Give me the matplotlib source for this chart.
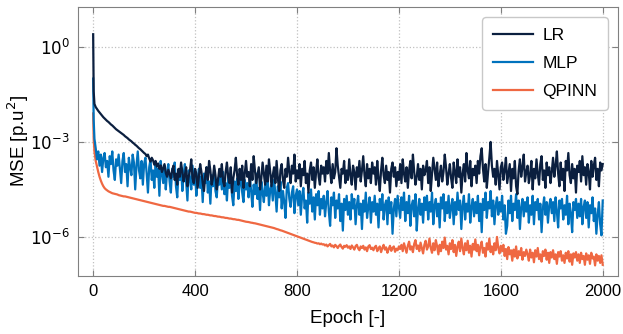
import numpy as np
import matplotlib.pyplot as plt

plt.rcParams['font.family'] = ['Liberation Sans', 'DejaVu Sans']

# epochs: first two points, then every 5 epochs
epoch = [0, 2] + list(range(5, 2001, 5))

# log10(MSE), one row = 100 epochs
lr_log = [0.4, -1.4,
    -1.8, -1.9, -1.96, -2.02, -2.07, -2.12, -2.17, -2.22, -2.26, -2.3, -2.34, -2.37, -2.41, -2.45, -2.48, -2.52, -2.56, -2.6, -2.63, -2.66,
    -2.69, -2.72, -2.75, -2.78, -2.82, -2.85, -2.88, -2.92, -2.95, -2.98, -3.02, -3.05, -3.09, -3.12, -3.16, -3.2, -3.23, -3.27, -3.31, -3.35,
    -3.38, -3.45, -3.4, -3.52, -3.62, -3.5, -3.58, -3.72, -3.6, -3.78, -3.68, -3.85, -3.74, -3.95, -3.82, -3.7, -3.98, -4.1, -3.88, -4.02,
    -4.15, -3.9, -3.75, -4.2, -4.0, -4.35, -3.85, -4.1, -3.65, -3.95, -4.25, -4.05, -3.8, -4.4, -4.1, -3.9, -3.55, -4.15, -4.3, -3.85,
    -4.0, -4.45, -4.1, -3.7, -3.95, -4.3, -4.55, -4.05, -3.8, -4.2, -3.6, -3.9, -4.35, -4.15, -3.75, -4.05, -4.5, -4.2, -3.85, -4.1,
    -3.7, -4.25, -4.4, -3.95, -3.65, -4.1, -4.3, -3.8, -4.6, -4.15, -3.9, -3.5, -4.05, -4.35, -3.85, -4.2, -3.75, -4.45, -4.0, -3.6,
    -4.1, -3.95, -4.4, -3.7, -4.2, -3.45, -3.9, -4.3, -4.05, -3.8, -4.5, -4.15, -3.65, -4.0, -4.35, -3.75, -4.25, -3.55, -3.95, -4.4,
    -4.05, -3.8, -4.3, -3.6, -4.15, -4.55, -3.9, -3.7, -4.2, -4.45, -3.85, -4.1, -3.5, -3.95, -4.3, -3.75, -4.0, -3.4, -4.25, -3.9,
    -4.15, -3.7, -4.4, -3.85, -4.05, -3.6, -4.3, -4.0, -4.6, -3.9, -3.65, -4.2, -3.8, -4.45, -3.95, -3.55, -4.1, -4.35, -3.75, -4.0,
    -3.8, -4.25, -3.6, -4.0, -3.35, -3.9, -4.3, -3.7, -4.15, -3.95, -3.2, -3.75, -4.1, -4.45, -3.85, -4.0, -3.6, -4.3, -3.9, -4.2,
    -3.55, -4.05, -4.35, -3.75, -3.95, -4.5, -3.8, -4.1, -3.6, -4.25, -3.9, -3.45, -4.05, -4.4, -3.7, -4.15, -3.85, -4.3, -3.65, -4.0,
    -3.8, -4.35, -3.6, -4.15, -4.55, -3.9, -3.5, -4.05, -4.3, -3.75, -4.2, -3.95, -4.6, -3.85, -3.65, -4.1, -3.8, -4.4, -3.95, -4.2,
    -3.7, -4.3, -3.55, -4.0, -4.25, -3.8, -4.45, -3.9, -3.6, -4.15, -3.4, -3.95, -4.35, -4.1, -3.7, -4.2, -3.85, -4.5, -3.75, -4.05,
    -3.9, -3.6, -4.3, -3.8, -4.55, -4.0, -3.5, -3.85, -4.2, -3.65, -4.4, -4.05, -3.75, -4.25, -3.95, -3.4, -3.8, -4.35, -4.0, -3.7,
    -4.15, -4.45, -3.65, -3.95, -4.3, -3.55, -4.1, -3.8, -4.6, -4.0, -3.7, -4.25, -3.35, -3.9, -4.15, -3.6, -4.4, -3.85, -4.05, -3.75,
    -4.3, -3.6, -4.0, -3.45, -3.2, -3.85, -4.25, -3.7, -4.45, -3.95, -3.5, -3.0, -3.75, -4.1, -3.85, -4.35, -3.6, -4.05, -4.5, -3.8,
    -3.65, -4.2, -3.9, -3.5, -4.3, -4.0, -3.7, -4.55, -3.85, -4.15, -3.6, -4.4, -4.65, -3.9, -3.55, -4.1, -3.8, -3.4, -4.25, -3.95,
    -3.75, -4.3, -4.05, -3.6, -4.5, -3.85, -4.15, -3.55, -4.0, -4.35, -3.7, -3.45, -4.2, -3.9, -4.45, -3.65, -4.05, -3.8, -4.3, -3.95,
    -3.5, -4.1, -3.75, -3.3, -4.0, -4.4, -3.65, -4.2, -3.85, -4.55, -3.6, -3.9, -3.35, -4.05, -4.3, -3.7, -4.15, -3.85, -4.6, -3.75,
    -3.95, -3.6, -4.25, -3.45, -4.05, -3.8, -4.35, -3.7, -3.95, -4.5, -3.6, -4.1, -3.75, -3.5, -4.2, -3.85, -4.4, -3.65, -3.9, -3.7]

mlp_log = [-1.0, -2.3,
    -2.9, -3.2, -3.55, -3.3, -3.75, -3.4, -3.95, -3.5, -3.35, -3.8, -3.6, -4.1, -3.45, -3.7, -3.3, -3.9, -4.2, -3.55, -3.75, -3.4,
    -3.85, -4.3, -3.6, -3.35, -3.95, -3.7, -4.4, -3.5, -3.8, -4.05, -3.4, -3.65, -4.5, -3.75, -3.3, -3.9, -4.15, -3.6, -4.35, -3.7,
    -3.5, -4.0, -4.6, -3.8, -3.55, -4.2, -3.9, -4.45, -3.65, -4.1, -3.85, -4.7, -3.6, -4.0, -4.3, -3.75, -4.5, -3.95, -3.7, -4.25,
    -4.6, -3.85, -4.1, -3.65, -4.4, -4.75, -3.95, -4.2, -3.8, -4.55, -4.05, -3.7, -4.3, -4.85, -3.9, -4.15, -4.5, -3.75, -4.35, -4.0,
    -4.7, -4.2, -3.85, -4.45, -4.1, -4.9, -4.0, -4.3, -3.8, -4.6, -4.25, -4.95, -4.05, -4.4, -3.9, -4.55, -4.75, -4.15, -4.35, -4.0,
    -4.5, -3.95, -4.65, -4.3, -4.85, -4.1, -4.45, -4.0, -4.7, -5.0, -4.25, -4.55, -4.15, -4.8, -4.35, -3.95, -4.6, -4.9, -4.2, -4.5,
    -4.3, -4.75, -4.1, -4.55, -5.05, -4.35, -4.65, -4.0, -4.8, -4.45, -5.15, -4.25, -4.6, -4.9, -4.3, -4.7, -4.15, -5.0, -4.5, -4.35,
    -4.85, -4.2, -4.6, -5.2, -4.4, -4.75, -4.25, -5.1, -4.55, -4.9, -5.4, -4.45, -4.3, -4.8, -5.05, -4.6, -4.4, -5.25, -4.7, -4.5,
    -5.0, -4.55, -5.3, -4.7, -4.45, -5.1, -4.85, -5.55, -4.6, -4.95, -4.5, -5.2, -4.75, -5.45, -4.65, -5.0, -4.55, -5.3, -4.8, -5.1,
    -4.7, -5.35, -4.9, -4.55, -5.2, -5.65, -4.75, -5.0, -4.6, -5.4, -4.85, -5.1, -4.65, -5.5, -4.95, -5.8, -4.8, -5.15, -4.7, -5.3,
    -4.9, -5.45, -4.65, -5.1, -4.8, -5.6, -5.0, -4.7, -5.3, -4.95, -5.75, -4.85, -5.2, -4.6, -5.4, -5.05, -4.75, -5.55, -4.9, -5.2,
    -4.7, -5.3, -4.95, -5.7, -4.8, -5.15, -4.65, -5.45, -5.0, -4.85, -5.6, -4.75, -5.25, -4.9, -5.9, -5.1, -4.8, -5.35, -4.7, -5.05,
    -5.4, -4.75, -5.15, -4.6, -5.5, -4.9, -5.25, -4.7, -5.65, -5.0, -4.85, -5.35, -4.65, -5.8, -5.1, -4.8, -5.3, -4.95, -5.55, -4.75,
    -5.15, -4.7, -5.45, -4.9, -5.2, -4.6, -5.6, -5.0, -4.8, -5.35, -4.95, -5.7, -4.75, -5.1, -4.65, -5.5, -4.9, -5.25, -4.7, -5.4,
    -5.05, -4.8, -5.6, -4.9, -5.3, -4.6, -5.15, -4.85, -5.75, -5.0, -4.7, -5.45, -4.95, -5.2, -4.65, -5.55, -5.05, -4.8, -5.35, -4.9,
    -5.25, -4.7, -5.5, -4.95, -5.85, -4.8, -5.15, -4.6, -5.4, -4.9, -5.1, -4.55, -5.35, -4.85, -5.6, -5.0, -4.75, -5.3, -4.9, -5.2,
    -4.7, -5.45, -5.0, -5.9, -5.65, -4.85, -5.25, -4.7, -5.5, -4.95, -5.15, -4.65, -5.4, -4.85, -5.75, -5.05, -4.8, -5.35, -4.9, -5.2,
    -4.75, -5.55, -5.0, -5.3, -4.7, -5.6, -4.9, -5.15, -4.8, -5.45, -4.95, -5.85, -5.1, -4.75, -5.3, -4.9, -5.55, -5.0, -4.8, -5.25,
    -4.9, -5.5, -4.75, -5.2, -5.7, -4.85, -5.1, -4.8, -5.45, -5.0, -5.3, -4.7, -5.6, -4.95, -5.25, -5.85, -4.9, -5.15, -4.8, -5.4,
    -4.95, -5.35, -4.8, -5.6, -5.05, -4.85, -5.4, -4.9, -5.7, -5.0, -5.25, -4.75, -5.5, -5.1, -5.9, -5.3, -4.9, -5.6, -5.95, -4.85]

qpinn_log = [-2.1, -2.9,
    -3.3, -3.6, -3.78, -3.95, -4.1, -4.22, -4.32, -4.4, -4.46, -4.5, -4.53, -4.56, -4.58, -4.6, -4.62, -4.63, -4.64, -4.65, -4.66, -4.68,
    -4.69, -4.7, -4.71, -4.72, -4.72, -4.73, -4.74, -4.75, -4.76, -4.77, -4.78, -4.79, -4.8, -4.81, -4.82, -4.83, -4.84, -4.85, -4.86, -4.87,
    -4.88, -4.89, -4.9, -4.91, -4.92, -4.93, -4.94, -4.95, -4.96, -4.97, -4.98, -4.99, -5.0, -5.01, -5.02, -5.02, -5.03, -5.04, -5.05, -5.05,
    -5.06, -5.07, -5.08, -5.09, -5.1, -5.11, -5.12, -5.13, -5.14, -5.15, -5.16, -5.17, -5.18, -5.19, -5.2, -5.2, -5.21, -5.22, -5.23, -5.24,
    -5.24, -5.25, -5.26, -5.26, -5.27, -5.28, -5.28, -5.29, -5.3, -5.3, -5.31, -5.32, -5.32, -5.33, -5.34, -5.34, -5.35, -5.36, -5.36, -5.37,
    -5.38, -5.38, -5.39, -5.4, -5.4, -5.41, -5.42, -5.42, -5.43, -5.44, -5.44, -5.45, -5.46, -5.46, -5.47, -5.48, -5.49, -5.5, -5.51, -5.52,
    -5.525, -5.53, -5.54, -5.55, -5.555, -5.565, -5.57, -5.58, -5.59, -5.6, -5.61, -5.62, -5.63, -5.64, -5.65, -5.66, -5.67, -5.68, -5.69, -5.7,
    -5.71, -5.72, -5.735, -5.75, -5.76, -5.775, -5.79, -5.8, -5.815, -5.83, -5.845, -5.86, -5.875, -5.89, -5.905, -5.92, -5.935, -5.95, -5.965, -5.98,
    -5.995, -6.01, -6.025, -6.04, -6.055, -6.07, -6.085, -6.1, -6.115, -6.13, -6.145, -6.16, -6.17, -6.185, -6.19, -6.21, -6.2, -6.23, -6.21, -6.24,
    -6.23, -6.27, -6.24, -6.3, -6.26, -6.22, -6.3, -6.27, -6.33, -6.25, -6.29, -6.35, -6.28, -6.24, -6.32, -6.37, -6.28, -6.31, -6.26, -6.34,
    -6.3, -6.38, -6.27, -6.33, -6.4, -6.29, -6.25, -6.36, -6.42, -6.3, -6.35, -6.28, -6.4, -6.33, -6.45, -6.3, -6.26, -6.38, -6.34, -6.42,
    -6.32, -6.28, -6.45, -6.36, -6.3, -6.48, -6.35, -6.25, -6.4, -6.33, -6.5, -6.38, -6.28, -6.44, -6.35, -6.3, -6.47, -6.37, -6.42, -6.3,
    -6.38, -6.25, -6.45, -6.2, -6.35, -6.5, -6.28, -6.15, -6.4, -6.3, -6.48, -6.22, -6.1, -6.38, -6.27, -6.45, -6.18, -6.35, -6.52, -6.25,
    -6.12, -6.4, -6.3, -6.05, -6.35, -6.5, -6.2, -6.42, -6.1, -6.3, -6.55, -6.25, -6.45, -6.15, -6.35, -6.02, -6.4, -6.28, -6.55, -6.2,
    -6.38, -6.1, -6.48, -6.25, -6.6, -6.3, -6.15, -6.45, -6.05, -6.35, -6.55, -6.2, -6.42, -6.12, -6.5, -6.28, -6.62, -6.22, -6.4, -6.08,
    -6.45, -6.25, -6.58, -6.3, -6.15, -6.5, -6.35, -6.62, -6.2, -6.4, -6.05, -6.48, -6.3, -6.55, -6.2, -6.42, -6.0, -6.35, -6.52, -6.28,
    -6.45, -6.25, -6.6, -6.38, -6.7, -6.32, -6.55, -6.42, -6.75, -6.4, -6.62, -6.3, -6.68, -6.45, -6.58, -6.35, -6.72, -6.48, -6.6, -6.4,
    -6.55, -6.75, -6.4, -6.65, -6.5, -6.8, -6.42, -6.62, -6.35, -6.7, -6.55, -6.78, -6.45, -6.6, -6.4, -6.72, -6.5, -6.82, -6.48, -6.65,
    -6.42, -6.7, -6.55, -6.85, -6.48, -6.62, -6.45, -6.75, -6.58, -6.82, -6.5, -6.68, -6.45, -6.78, -6.55, -6.88, -6.52, -6.65, -6.48, -6.75,
    -6.55, -6.82, -6.5, -6.7, -6.6, -6.88, -6.52, -6.72, -6.58, -6.85, -6.5, -6.68, -6.62, -6.9, -6.55, -6.75, -6.6, -6.82, -6.58, -6.88]

lr = 10.0 ** np.array(lr_log)
mlp = 10.0 ** np.array(mlp_log)
qpinn = 10.0 ** np.array(qpinn_log)

fig = plt.figure(figsize=(6.23, 3.34), dpi=100)
ax = fig.add_axes([0.125, 0.174, 0.867, 0.805])

ax.plot(epoch, qpinn, color='#ef6842', lw=1.6, label='QPINN', zorder=2)
ax.plot(epoch, mlp, color='#0072bd', lw=1.6, label='MLP', zorder=3)
ax.plot(epoch, lr, color='#0b1f3f', lw=1.6, label='LR', zorder=4)

ax.set_yscale('log')
ax.set_xlim(-60, 2060)
ax.set_ylim(10 ** -7.23, 10 ** 1.26)
ax.set_xticks([0, 400, 800, 1200, 1600, 2000])
ax.set_yticks([1e0, 1e-3, 1e-6])
ax.set_yticklabels(['$10^{0}$', '$10^{-3}$', '$10^{-6}$'])
ax.yaxis.set_minor_locator(plt.NullLocator())
ax.tick_params(direction='in', top=True, right=True, labelsize=12, color='#808080', length=4, pad=6)
ax.grid(True, linestyle=':', color='#c0c0c0', lw=0.9)
for s in ax.spines.values():
    s.set_color('#808080')

ax.set_xlabel('Epoch [-]', fontsize=13.5, labelpad=8)
ax.set_ylabel('MSE [p.u$^2$]', fontsize=13.5, labelpad=-1)

h, l = ax.get_legend_handles_labels()
ax.legend(h[::-1], l[::-1], loc='upper right', fontsize=12.5, edgecolor='#c8c8c8',
          fancybox=True, framealpha=1, handlelength=2.3, handletextpad=0.55,
          labelspacing=0.75, borderpad=0.6, borderaxespad=0.6)

fig.savefig('out.png', dpi=100)
